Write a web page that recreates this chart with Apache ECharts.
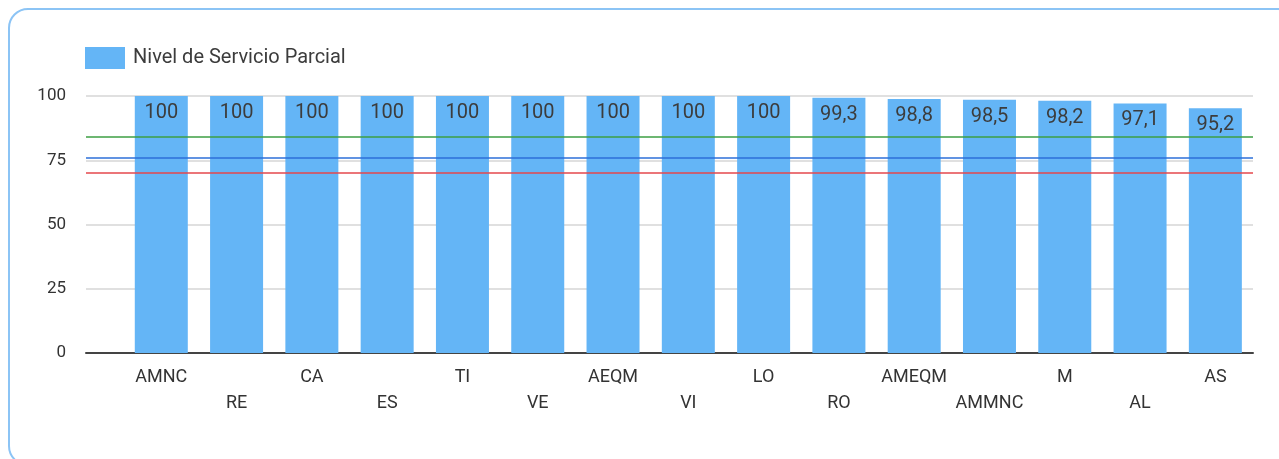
<!DOCTYPE html>
<html><head><meta charset="utf-8">
<script src="https://cdn.jsdelivr.net/npm/echarts@6/dist/echarts.min.js"></script>
<style>
html,body{margin:0;padding:0;background:#fff;overflow:hidden;}
#card{position:absolute;left:8px;top:8px;width:1290px;height:458px;border:2px solid #8cc4f5;border-radius:20px;box-sizing:border-box;}
#chart{position:absolute;left:0;top:0;width:1279px;height:459px;}
</style></head>
<body>
<div id="card"></div>
<div id="chart"></div>
<script>
const categories = ['AMNC','RE','CA','ES','TI','VE','AEQM','VI','LO','RO','AMEQM','AMMNC','M','AL','AS'];
const values = [100,100,100,100,100,100,100,100,100,99.3,98.8,98.5,98.2,97.1,95.2];
const seriesName = 'Nivel de Servicio Parcial';
const refLines = [84, 76, 70];
const refColors = ['#3d9f43','#2d6fd8','#e4474c'];
const yTicks = [0,25,50,75,100];

const chart = echarts.init(document.getElementById('chart'));
const FONT = 'Roboto';
chart.setOption({
  animation:false,
  textStyle:{fontFamily:FONT},
  legend:{left:80, top:42, itemWidth:40, itemHeight:22, icon:'rect',
    textStyle:{fontSize:20, color:'#3c3c3c', fontFamily:FONT, padding:[0,0,0,3]},
    data:[seriesName]},
  grid:{left:86, right:26, top:96, bottom:106},
  xAxis:{type:'value', min:-1, max:14.5, interval:1,
    axisLine:{show:true, onZero:false, lineStyle:{color:'#444', width:2}},
    axisTick:{show:false}, splitLine:{show:false},
    axisLabel:{show:true, showMinLabel:true, showMaxLabel:true, margin:11, fontSize:18, color:'#333', lineHeight:26,
      formatter:function(v){ if(!Number.isInteger(v)||v<0||v>=categories.length) return ''; return (v%2?'\n':'')+categories[v]; }}
  },
  yAxis:{type:'value', min:yTicks[0], max:yTicks[yTicks.length-1], interval:25,
    axisLine:{show:false}, axisTick:{show:false},
    splitLine:{lineStyle:{color:'#e0e0e0', width:2}},
    axisLabel:{fontSize:17, color:'#333', margin:20}
  },
  series:[{
    name:seriesName, type:'bar', barWidth:53,
    itemStyle:{color:'#64b5f6'},
    data: categories.map((c,i)=>[i, values[i]]),
    label:{show:true, position:'insideTop', distance:7, fontSize:20, color:'#3c3c3c',
      formatter:function(p){ return String(p.value[1]).replace('.',','); }},
    markLine:{silent:true, symbol:'none', label:{show:false},
      data: refLines.map((v,i)=>({yAxis:v, lineStyle:{color:refColors[i], width:1.5, type:'solid'}}))}
  }]
});
</script>
</body></html>
